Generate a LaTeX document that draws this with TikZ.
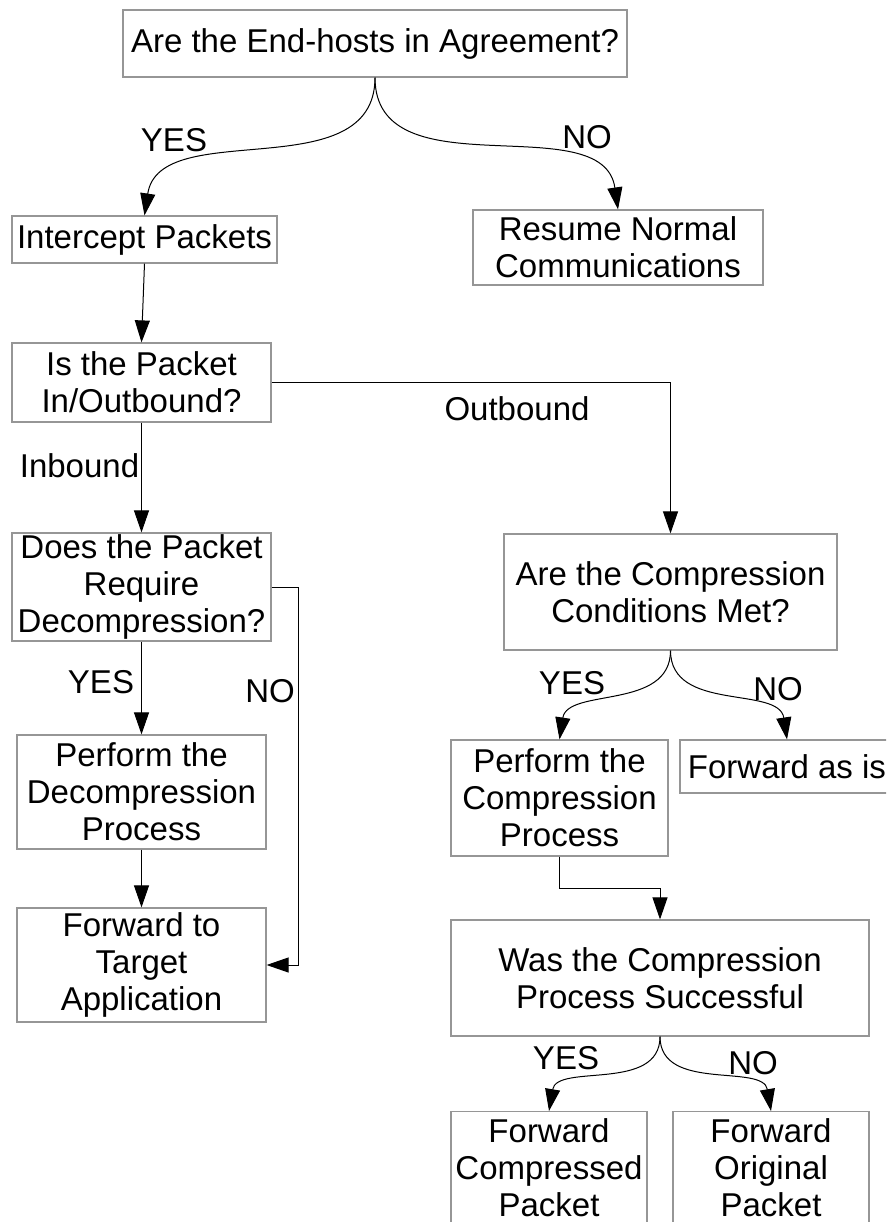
\documentclass[tikz,border=0pt]{standalone}
\usepackage{fontspec}
\setmainfont{Liberation Sans}
\usetikzlibrary{arrows.meta}
\definecolor{boxgray}{RGB}{150,150,150}
\tikzset{
  box/.style={draw=boxgray, line width=1.2pt, inner sep=0pt, align=center,
    font=\fontsize{33}{37}\selectfont, text=black},
  lbl/.style={inner sep=0pt, font=\fontsize{33}{37}\selectfont, text=black},
  conn/.style={draw=black, line width=1pt, -{Triangle[length=22pt,width=15pt]}},
  plain/.style={draw=black, line width=1pt}
}
\begin{document}
\begin{tikzpicture}[x=1pt,y=-1pt]
\useasboundingbox (0,0) rectangle (886,1222);
\clip (0,0) rectangle (886,1222);
\fill[white] (0,0) rectangle (886,1222);
% boxes
\node[box, minimum width=504pt, minimum height=67pt] (top) at (375,43.5) {Are the End-hosts in Agreement?};
\node[box, minimum width=265pt, minimum height=47pt] (ip) at (144.5,239.5) {Intercept Packets};
\node[box, minimum width=290pt, minimum height=75pt] (rn) at (618,247.5) {Resume Normal\\Communications};
\node[box, minimum width=259pt, minimum height=79pt] (isp) at (141.5,382.5) {Is the Packet\\In/Outbound?};
\node[box, minimum width=259pt, minimum height=108pt] (does) at (141.5,587) {Does the Packet\\Require\\Decompression?};
\node[box, minimum width=249pt, minimum height=114pt] (pd) at (141.5,792) {Perform the\\Decompression\\Process};
\node[box, minimum width=249pt, minimum height=114pt] (tgt) at (141.5,965) {Forward to\\Target\\Application};
\node[box, minimum width=333pt, minimum height=116pt] (ccm) at (670.5,592) {Are the Compression\\Conditions Met?};
\node[box, minimum width=217pt, minimum height=116pt] (pc) at (559.5,798) {Perform the\\Compression\\Process};
\node[box, minimum width=214pt, minimum height=53pt] (fai) at (787,766.5) {Forward as is};
\node[box, minimum width=418pt, minimum height=116pt] (was) at (660,978) {Was the Compression\\Process Successful};
\node[box, minimum width=196pt, inner ysep=7pt, anchor=north] (fc) at (549,1111) {Forward\\Compressed\\Packet};
\node[box, minimum width=196pt, inner ysep=7pt, anchor=north] (fo) at (771,1111) {Forward\\Original\\Packet};
% labels
\node[lbl] (l1) at (174,140) {YES};
\node[lbl] (l2) at (587,137) {NO};
\node[lbl] (l3) at (79.5,466) {Inbound};
\node[lbl] (l4) at (517,409) {Outbound};
\node[lbl] (l5) at (101,682) {YES};
\node[lbl] (l6) at (270,691) {NO};
\node[lbl] (l7) at (572,683) {YES};
\node[lbl] (l8) at (778,689) {NO};
\node[lbl] (l9) at (566,1058) {YES};
\node[lbl] (l10) at (753,1063) {NO};
% connectors
\draw[conn] (top.south) .. controls +(0,112) and +(15,-100) .. (ip.north);
\draw[conn] (top.south) .. controls +(0,116) and +(-15,-104) .. (rn.north);
\draw[conn] (ip.south) -- (isp.north);
\draw[conn] (isp.south) -- (does.north);
\draw[conn] (isp.east) -| (ccm.north);
\draw[conn] (does.south) -- (pd.north);
\coordinate (dn) at ([xshift=27pt]does.east);
\draw[conn] (does.east) -- (dn) |- (tgt.east);
\draw[conn] (pd.south) -- (tgt.north);
\draw[conn] (ccm.south) .. controls +(0,60) and +(8,-52) .. (pc.north);
\draw[conn] (ccm.south) .. controls +(0,62) and +(-8,-54) .. (fai.north);
\coordinate (pcb) at ([yshift=-32pt]pc.south);
\draw[conn] (pc.south) -- (pcb) -| (was.north);
\draw[conn] (was.south) .. controls +(0,56) and +(8,-48) .. (fc.north);
\draw[conn] (was.south) .. controls +(0,56) and +(-8,-48) .. (fo.north);
\end{tikzpicture}
\end{document}
